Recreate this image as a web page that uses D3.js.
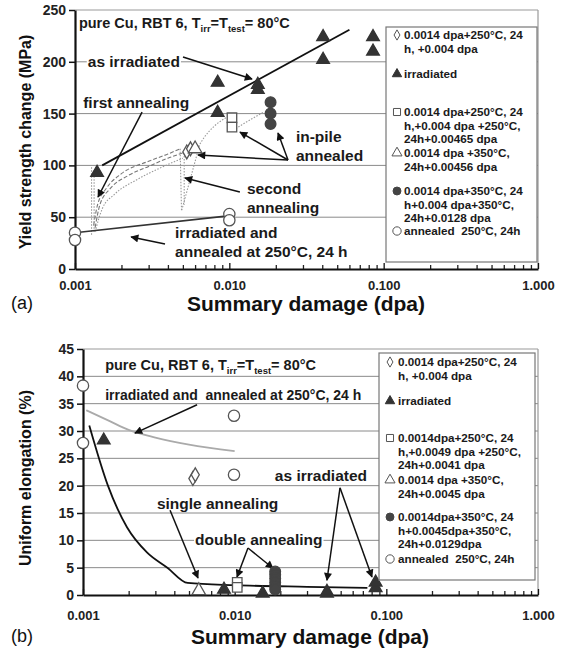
<!DOCTYPE html>
<html>
<head>
<meta charset="utf-8">
<script src="https://cdn.jsdelivr.net/npm/d3@7"></script>
<style>
body { margin: 0; background: #fff; }
svg text { font-family: "Liberation Sans", Arial, sans-serif; white-space: pre; }
</style>
</head>
<body>
<svg id="chart" width="565" height="651"></svg>
<script>
// shared x axis (log, dpa)
var xMajor = [0.001, 0.01, 0.1, 1];
var xMajorLabels = ["0.001", "0.010", "0.100", "1.000"];
var xMinor = [0.002, 0.003, 0.004, 0.005, 0.006, 0.007, 0.008, 0.009,
	0.02, 0.03, 0.04, 0.05, 0.06, 0.07, 0.08, 0.09,
	0.2, 0.3, 0.4, 0.5, 0.6, 0.7, 0.8, 0.9];
var titleParts = [["pure Cu, RBT 6, T", false], ["irr", true], ["=T", false], ["test", true], ["= 80°C", false]];

// (a) yield strength change, MPa
var ysTicks = [0, 50, 100, 150, 200, 250];
var ysGrid = [50, 100, 150, 200];
var ysIrradiated = [[0.00139, 93], [0.0084, 180], [0.0084, 151], [0.0153, 178], [0.0153, 173],
	[0.0405, 224], [0.0405, 202], [0.0853, 224], [0.0853, 210]];
var ysAsIrrLine = [[0.0015, 100], [0.06, 231]];
var ysAnnealed250 = [[0.001, 35], [0.001, 28], [0.01, 53], [0.01, 47]];
var ysAnnealedLine = [[0.001, 35], [0.0095, 51]];
var ysDiamond = [[0.0053, 113], [0.0056, 116]];
var ysTriOpen = [[0.0060, 116]];
var ysSquare = [[0.0104, 146], [0.0104, 137]];
var ysCircFill = [[0.0185, 161], [0.0185, 150], [0.0185, 140]];
var ysRecDash = [
	[[0.00132, 42], [0.0014, 62], [0.0016, 78], [0.002, 92], [0.003, 104], [0.004, 111], [0.0048, 116]],
	[[0.00135, 40], [0.00145, 62], [0.0017, 78], [0.0022, 90], [0.003, 99], [0.004, 107], [0.005, 112]]
];
var ysRecDot = [
	[[0.00135, 36], [0.0015, 58], [0.0018, 72], [0.0025, 86], [0.0035, 97], [0.005, 107]],
	[[0.0063, 118], [0.0068, 126], [0.008, 138], [0.0095, 146]],
	[[0.0106, 134], [0.012, 139], [0.014, 145], [0.0165, 151]]
];
var ysRecStraight = [
	[[0.00128, 33], [0.00128, 100]],
	[[0.00133, 36], [0.00133, 96]],
	[[0.0048, 116], [0.0049, 56], [0.0064, 119]],
	[[0.0051, 112], [0.0051, 62]]
];

// (b) uniform elongation, %
var ueTicks = [0, 5, 10, 15, 20, 25, 30, 35, 40, 45];
var ueGrid = [5, 10, 15, 20, 25, 30, 35, 40];
var ueIrradiated = [[0.00137, 28.3], [0.0085, 1.0], [0.0153, 0.3], [0.0406, 0.3], [0.0406, 0.6],
	[0.085, 1.3], [0.085, 2.3]];
var ueAnnealed250 = [[0.001, 38.3], [0.001, 27.8], [0.0099, 32.8], [0.0099, 22]];
var ueAnnealedCurve = [[0.00105, 33.8], [0.0015, 31.8], [0.002, 30.2], [0.003, 28.8], [0.005, 27.5], [0.01, 26.3]];
var ueAsIrrCurve = [[0.0011, 31], [0.00146, 20], [0.00195, 12.4], [0.00264, 7.8], [0.0036, 5],
	[0.0049, 2.2], [0.01, 1.8], [0.03, 1.5], [0.075, 1.3]];
var ueDiamond = [[0.0053, 21.3], [0.0055, 22]];
var ueTriOpen = [[0.0058, 0.8]];
var ueSquare = [[0.0104, 2.3], [0.0104, 1.4]];
var ueCircFill = [[0.0185, 4.3], [0.0185, 3.7], [0.0185, 3.0], [0.0185, 2.3], [0.0185, 1.6], [0.0185, 1.0]];

// legends
var legendA = [
	["diamond", ["0.0014 dpa+250°C, 24", "h, +0.004 dpa"]],
	["triFill", ["irradiated"]],
	["square", ["0.0014 dpa+250°C, 24", "h,+0.004 dpa +250°C,", "24h+0.00465 dpa"]],
	["triOpen", ["0.0014 dpa +350°C,", "24h+0.00456 dpa"]],
	["circFill", ["0.0014 dpa+350°C, 24", "h+0.004 dpa+350°C,", "24h+0.0128 dpa"]],
	["circOpen", ["annealed  250°C, 24h"]]
];
var legendB = [
	["diamond", ["0.0014 dpa+250°C, 24", "h, +0.004 dpa"]],
	["triFill", ["irradiated"]],
	["square", ["0.0014dpa+250°C, 24", "h,+0.0049 dpa +250°C,", "24h+0.0041 dpa"]],
	["triOpen", ["0.0014 dpa +350°C,", "24h+0.0045 dpa"]],
	["circFill", ["0.0014dpa+350°C, 24", "h+0.0045dpa+350°C,", "24h+0.0129dpa"]],
	["circOpen", ["annealed  250°C, 24h"]]
];
var legendRowsA = [35, 74, 112, 153, 191, 231];
var legendRowsB = [362, 401, 438, 480, 517, 559];

var svg = d3.select("#chart");
svg.append("rect").attr("width", 565).attr("height", 651).attr("fill", "#fff");

svg.append("defs").append("marker")
	.attr("id", "arrow")
	.attr("viewBox", "0 0 10 10")
	.attr("refX", 9).attr("refY", 5)
	.attr("markerUnits", "userSpaceOnUse")
	.attr("markerWidth", 10).attr("markerHeight", 8)
	.attr("orient", "auto")
	.append("path").attr("d", "M0,0L10,5L0,10z").attr("fill", "#111");

var symbols = {
	triFill: {type: d3.symbolTriangle, size: 70, fill: "#333", stroke: "#333"},
	triOpen: {type: d3.symbolTriangle, size: 80, fill: "#fff", stroke: "#555"},
	square: {type: d3.symbolSquare, size: 90, fill: "#fff", stroke: "#555"},
	diamond: {type: d3.symbolDiamond, size: 55, fill: "#fff", stroke: "#555"},
	circFill: {type: d3.symbolCircle, size: 90, fill: "#444", stroke: "#444"},
	circOpen: {type: d3.symbolCircle, size: 100, fill: "#fff", stroke: "#555"}
};

function drawFrame(g, x, y, yTicks, yGrid, labelPad) {
	var x0 = x.range()[0], x1 = x.range()[1], yb = y.range()[0], yt = y.range()[1];

	g.append("g").selectAll("line").data(yGrid).enter().append("line")
		.attr("x1", x0).attr("x2", x1)
		.attr("y1", function(d) { return y(d); }).attr("y2", function(d) { return y(d); })
		.attr("stroke", "#8a8a8a").attr("stroke-width", 1);

	g.append("line").attr("x1", x0).attr("x2", x1).attr("y1", yt).attr("y2", yt)
		.attr("stroke", "#999").attr("stroke-width", 1.2);
	g.append("line").attr("x1", x1).attr("x2", x1).attr("y1", yt).attr("y2", yb)
		.attr("stroke", "#999").attr("stroke-width", 1.2);

	var yAxis = g.append("g")
		.attr("transform", "translate(" + x0 + ",0)")
		.call(d3.axisLeft(y).tickValues(yTicks).tickSizeInner(6).tickSizeOuter(0).tickPadding(3));
	yAxis.select(".domain").attr("stroke", "#111").attr("stroke-width", 2.2);
	yAxis.selectAll(".tick line").attr("stroke", "#111").attr("stroke-width", 1.5);
	yAxis.selectAll("text").attr("font-size", 14).attr("font-weight", "bold").attr("fill", "#222")
		.style("font-family", "'Liberation Sans', Arial, sans-serif");

	var minor = g.append("g")
		.attr("transform", "translate(0," + yb + ")")
		.call(d3.axisBottom(x).tickValues(xMinor).tickSizeInner(-4).tickSizeOuter(0).tickFormat(""));
	minor.select(".domain").remove();
	minor.selectAll(".tick line").attr("stroke", "#222").attr("stroke-width", 1.3);

	var xAxis = g.append("g")
		.attr("transform", "translate(0," + yb + ")")
		.call(d3.axisBottom(x).tickValues(xMajor)
			.tickFormat(function(d, i) { return xMajorLabels[i]; })
			.tickSizeInner(-6).tickSizeOuter(0).tickPadding(labelPad));
	xAxis.select(".domain").attr("stroke", "#111").attr("stroke-width", 2.2);
	xAxis.selectAll(".tick line").attr("stroke", "#111").attr("stroke-width", 1.3);
	xAxis.selectAll("text").attr("font-size", 13).attr("font-weight", "bold").attr("fill", "#222")
		.style("font-family", "'Liberation Sans', Arial, sans-serif");
}

function drawPoints(g, data, shape, x, y) {
	var s = symbols[shape];
	g.append("g").selectAll("path").data(data).enter().append("path")
		.attr("transform", function(d) { return "translate(" + x(d[0]) + "," + y(d[1]) + ")"; })
		.attr("d", d3.symbol().type(s.type).size(s.size))
		.attr("fill", s.fill).attr("stroke", s.stroke).attr("stroke-width", 1.3);
}

function drawLine(g, data, x, y, curve, color, width, dash) {
	var line = d3.line().curve(curve)
		.x(function(d) { return x(d[0]); })
		.y(function(d) { return y(d[1]); });
	g.append("path").datum(data)
		.attr("d", line)
		.attr("fill", "none").attr("stroke", color).attr("stroke-width", width)
		.attr("stroke-dasharray", dash || null);
}

function addLabel(g, x, y, pos, lines, anchor, size) {
	var lg = g.append("g");
	lines.forEach(function(t, i) {
		var txt = lg.append("text")
			.attr("x", x(pos[0])).attr("y", y(pos[1]) + i * 18.5)
			.attr("dy", "0.35em")
			.attr("text-anchor", anchor || "start")
			.attr("font-size", size || 15.5).attr("font-weight", "bold").attr("fill", "#1a1a1a")
			.text(t);
		var b = txt.node().getBBox();
		lg.insert("rect", "text")
			.attr("x", b.x - 1).attr("y", b.y + 1).attr("width", b.width + 2).attr("height", b.height - 2)
			.attr("fill", "#fff");
	});
}

function addTitle(g, x, y, pos) {
	var t = g.append("text")
		.attr("x", x(pos[0])).attr("y", y(pos[1])).attr("dy", "0.35em")
		.attr("font-size", 14.5).attr("font-weight", "bold").attr("fill", "#1a1a1a");
	titleParts.forEach(function(p, i) {
		var ts = t.append("tspan").text(p[0]);
		if (p[1]) ts.attr("font-size", 9.5).attr("dy", 4);
		else if (i > 0) ts.attr("dy", -4);
	});
}

function addArrows(g, x, y, arrows) {
	g.append("g").selectAll("line").data(arrows).enter().append("line")
		.attr("x1", function(d) { return x(d[0][0]); }).attr("y1", function(d) { return y(d[0][1]); })
		.attr("x2", function(d) { return x(d[1][0]); }).attr("y2", function(d) { return y(d[1][1]); })
		.attr("stroke", "#111").attr("stroke-width", 1.5)
		.attr("marker-end", "url(#arrow)");
}

function drawLegend(g, box, entries, rows, symX, textX) {
	g.append("rect").attr("x", box[0]).attr("y", box[1]).attr("width", box[2]).attr("height", box[3])
		.attr("fill", "#fff").attr("stroke", "#777").attr("stroke-width", 1.2);
	entries.forEach(function(e, i) {
		var s = symbols[e[0]];
		g.append("path")
			.attr("transform", "translate(" + symX + "," + rows[i] + ")")
			.attr("d", d3.symbol().type(s.type).size(s.size * 0.55))
			.attr("fill", s.fill).attr("stroke", s.stroke).attr("stroke-width", 1);
		e[1].forEach(function(t, j) {
			g.append("text")
				.attr("x", textX).attr("y", rows[i] + j * 13.5).attr("dy", "0.35em")
				.attr("font-size", 11.7).attr("font-weight", "bold").attr("fill", "#1a1a1a")
				.text(t);
		});
	});
}

function axisTitles(g, xMid, yBase, yMid, yText, letterY, letter) {
	g.append("text").attr("x", xMid).attr("y", yBase).attr("text-anchor", "middle")
		.attr("font-size", 21).attr("font-weight", "bold").attr("fill", "#111")
		.text("Summary damage (dpa)");
	g.append("text").attr("transform", "translate(31," + yMid + ") rotate(-90)")
		.attr("text-anchor", "middle")
		.attr("font-size", 16).attr("font-weight", "bold").attr("fill", "#111")
		.text(yText);
	g.append("text").attr("x", 11).attr("y", letterY)
		.attr("font-size", 18).attr("fill", "#111")
		.text(letter);
}

// ---------- panel (a)
var xa = d3.scaleLog().domain([0.001, 1]).range([75, 538]);
var ya = d3.scaleLinear().domain([0, 250]).range([269, 10]);
var ga = svg.append("g");

drawFrame(ga, xa, ya, ysTicks, ysGrid, 12);
addTitle(ga, xa, ya, [0.00106, 237.5]);
addLabel(ga, xa, ya, [0.00121, 200], ["as irradiated"]);
addLabel(ga, xa, ya, [0.00113, 161], ["first annealing"]);
addLabel(ga, xa, ya, [0.027, 127.4], ["in-pile", "annealed"]);
addLabel(ga, xa, ya, [0.013, 77.2], ["second", "annealing"]);
addLabel(ga, xa, ya, [0.00445, 34.7], ["irradiated and", "annealed at 250°C, 24 h"]);

ysRecDash.forEach(function(c) { drawLine(ga, c, xa, ya, d3.curveMonotoneX, "#777", 1.1, "4,2"); });
ysRecDot.forEach(function(c) { drawLine(ga, c, xa, ya, d3.curveMonotoneX, "#999", 1.1, "1.5,1.5"); });
ysRecStraight.forEach(function(c) { drawLine(ga, c, xa, ya, d3.curveLinear, "#999", 1.1, "1.5,1.5"); });
drawLine(ga, ysAnnealedLine, xa, ya, d3.curveLinear, "#333", 1.6);
drawLine(ga, ysAsIrrLine, xa, ya, d3.curveLinear, "#111", 1.8);

addArrows(ga, xa, ya, [
	[[0.00501, 204.6], [0.01403, 183.4]],
	[[0.00272, 151.5], [0.00141, 69.5]],
	[[0.024, 105.2], [0.00627, 110]],
	[[0.024, 105.2], [0.01172, 132.2]],
	[[0.024, 105.2], [0.02067, 131.3]],
	[[0.0117, 74.3], [0.00516, 87.8]],
	[[0.00383, 24.1], [0.00231, 30.9]]
]);

drawPoints(ga, ysAnnealed250, "circOpen", xa, ya);
drawPoints(ga, ysDiamond, "diamond", xa, ya);
drawPoints(ga, ysTriOpen, "triOpen", xa, ya);
drawPoints(ga, ysSquare, "square", xa, ya);
drawPoints(ga, ysCircFill, "circFill", xa, ya);
drawPoints(ga, ysIrradiated, "triFill", xa, ya);

drawLegend(ga, [386, 27, 151, 235], legendA, legendRowsA, 397, 404);
axisTitles(ga, 306, 311, 142, "Yield strength change (MPa)", 309, "(a)");

// ---------- panel (b)
var xb = d3.scaleLog().domain([0.001, 1]).range([83, 538]);
var yb = d3.scaleLinear().domain([0, 45]).range([595, 349]);
var gb = svg.append("g");

drawFrame(gb, xb, yb, ueTicks, ueGrid, 16);
addTitle(gb, xb, yb, [0.0014, 42.1]);
addLabel(gb, xb, yb, [0.0014, 36.6], ["irradiated and  annealed at 250°C, 24 h"], "start", 14);
addLabel(gb, xb, yb, [0.0746, 21.8], ["as irradiated"], "end");
addLabel(gb, xb, yb, [0.00307, 16.8], ["single annealing"]);
addLabel(gb, xb, yb, [0.00548, 10.1], ["double annealing"]);

drawLine(gb, ueAnnealedCurve, xb, yb, d3.curveMonotoneX, "#aaa", 1.8);
drawLine(gb, ueAsIrrCurve, xb, yb, d3.curveMonotoneX, "#111", 1.8);

addArrows(gb, xb, yb, [
	[[0.00565, 34.8], [0.0022, 29.6]],
	[[0.0495, 19.6], [0.0406, 2.7]],
	[[0.0495, 19.6], [0.0804, 3.3]],
	[[0.00375, 15.5], [0.00573, 3.1]],
	[[0.01224, 8.6], [0.01036, 3.3]],
	[[0.01224, 8.6], [0.0179, 4.9]]
]);

drawPoints(gb, ueAnnealed250, "circOpen", xb, yb);
drawPoints(gb, ueDiamond, "diamond", xb, yb);
drawPoints(gb, ueTriOpen, "triOpen", xb, yb);
drawPoints(gb, ueSquare, "square", xb, yb);
drawPoints(gb, ueCircFill, "circFill", xb, yb);
drawPoints(gb, ueIrradiated, "triFill", xb, yb);

drawLegend(gb, [379, 353, 156, 227], legendB, legendRowsB, 390, 398);
axisTitles(gb, 310, 644, 478, "Uniform elongation (%)", 642, "(b)");
</script>
</body>
</html>
